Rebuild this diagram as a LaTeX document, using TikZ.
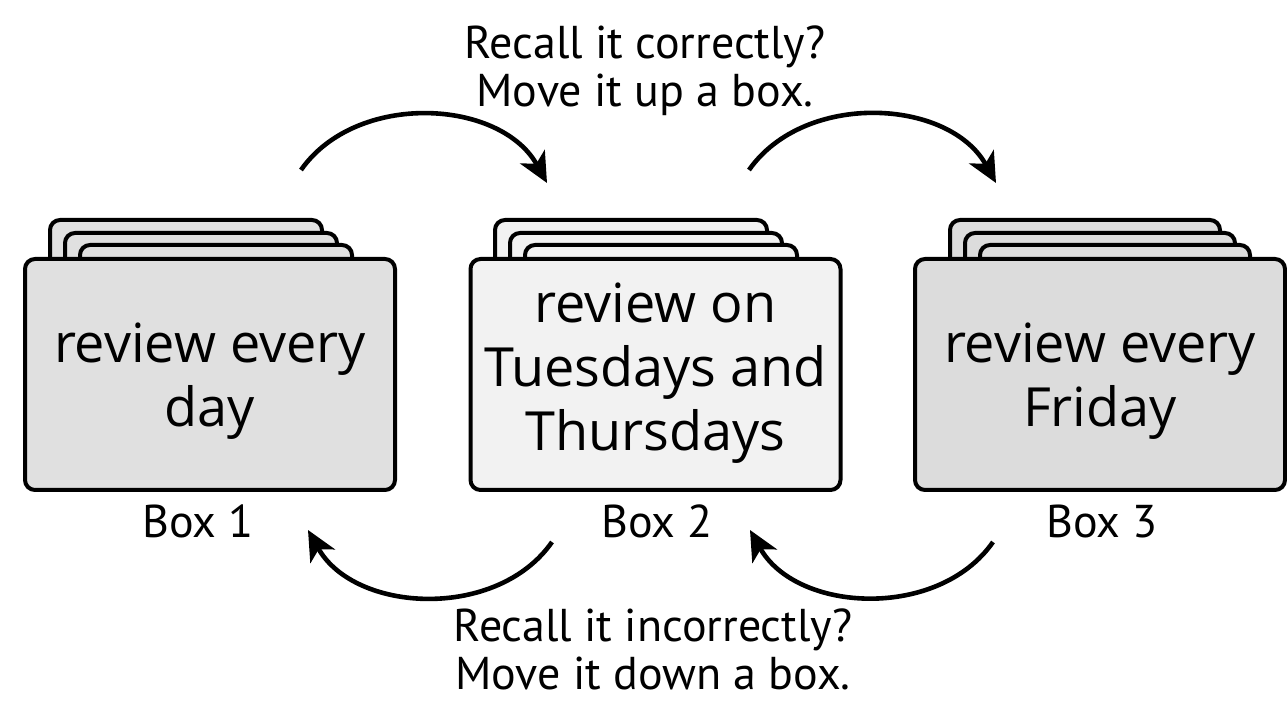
\documentclass[tikz,border=0pt]{standalone}
\usepackage{fontspec}
\setmainfont{PT Sans}
\newfontfamily\cardfont{Open Sans}
\usetikzlibrary{arrows.meta}
\definecolor{fillA}{HTML}{E0E0E0}
\definecolor{fillB}{HTML}{F2F2F2}
\definecolor{fillC}{HTML}{DCDCDC}
\tikzset{
  backcard/.style={draw=black, line width=2pt, rounded corners=5pt},
  frontcard/.style={draw=black, line width=2pt, rounded corners=5pt, minimum width=185pt, minimum height=115.5pt, inner sep=0pt},
  cardtext/.style={font=\cardfont\fontsize{27}{32}\selectfont, align=center, inner sep=0pt},
  caption/.style={font=\fontsize{23}{24}\selectfont, align=center, inner sep=0pt},
  arc/.style={line width=2.3pt, -{Stealth[length=15pt,width=14pt,inset=4pt]}}
}
\begin{document}
\begin{tikzpicture}[x=0.5pt,y=0.5pt]
\useasboundingbox (0,0) rectangle (1287,701);
% Box 1 stack
\foreach \dx/\top in {0/481,15/468,30/456}{
  \draw[backcard, fill=fillA] (50+\dx,400) rectangle (322+\dx,\top);
}
\node[frontcard, fill=fillA] (c1) at (210,326.5) {};
\node[cardtext] (t1) at (210,319.5) {review every\\day};
\node[caption] (l1) at (198,180) {Box 1};
% Box 2 stack
\foreach \dx/\top in {0/481,15/468,30/456}{
  \draw[backcard, fill=fillB] (495+\dx,400) rectangle (767+\dx,\top);
}
\node[frontcard, fill=fillB] (c2) at (655.5,326.5) {};
\node[cardtext] (t2) at (655.5,328) {review on\\Tuesdays and\\Thursdays};
\node[caption] (l2) at (657,180) {Box 2};
% Box 3 stack
\foreach \dx/\top in {0/481,15/468,30/456}{
  \draw[backcard, fill=fillC] (950+\dx,400) rectangle (1220+\dx,\top);
}
\node[frontcard, fill=fillC] (c3) at (1100,326.5) {};
\node[cardtext] (t3) at (1100,319.5) {review every\\Friday};
\node[caption] (l3) at (1102,180) {Box 3};
% texts
\node[caption] (up) at (645,630) {Recall it correctly?\\Move it up a box.};
\node[caption, anchor=south] (down) at (653,11) {Recall it incorrectly?\\Move it down a box.};
% arrows
\coordinate (a1s) at (301,531);
\coordinate (a1e) at (547,518);
\coordinate (a2s) at (749,531);
\coordinate (a2e) at (996,518);
\coordinate (b1s) at (552,159);
\coordinate (b1e) at (308,171);
\coordinate (b2s) at (993,159);
\coordinate (b2e) at (750,171);
\draw[arc] (a1s) to[bend left=58] (a1e);
\draw[arc] (a2s) to[bend left=58] (a2e);
\draw[arc] (b1s) to[bend left=58] (b1e);
\draw[arc] (b2s) to[bend left=58] (b2e);
\end{tikzpicture}
\end{document}
